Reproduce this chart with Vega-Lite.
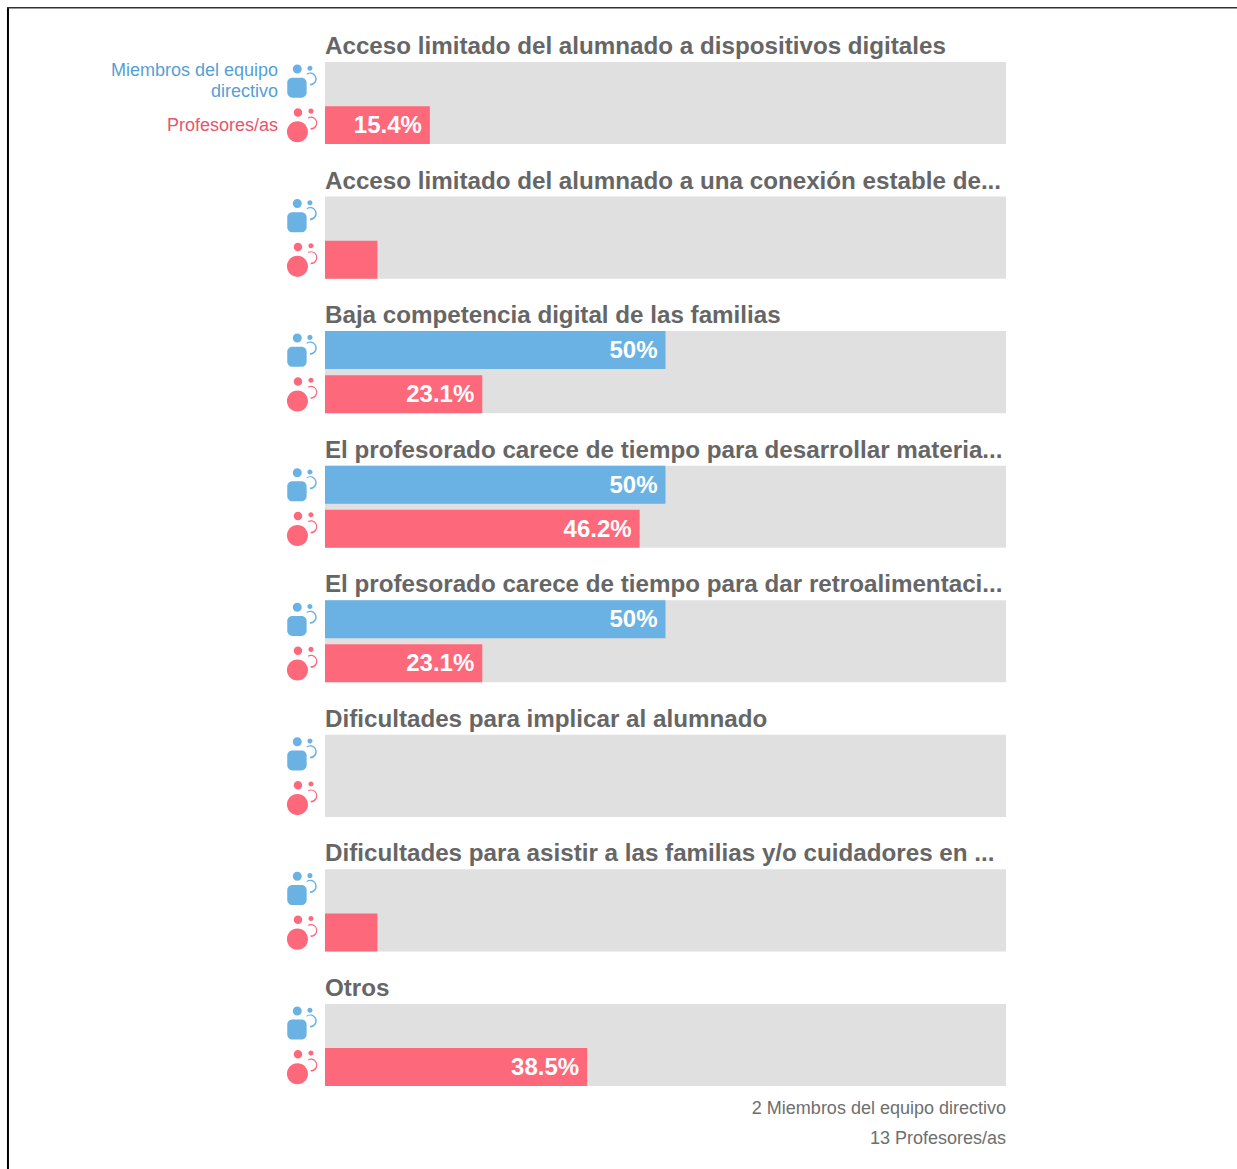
{
"$schema":"https://vega.github.io/schema/vega-lite/v6.json",
"width":1237,"height":1161,
"autosize":{"type":"none"},
"padding":{"left":0,"top":8,"right":0,"bottom":0},
"background":"white",
"view":{"stroke":null},
"config":{"font":"Liberation Sans"},
"datasets":{
"titles":[
{"group":"g1","title":"Acceso limitado del alumnado a dispositivos digitales"},
{"group":"g2","title":"Acceso limitado del alumnado a una conexión estable de..."},
{"group":"g3","title":"Baja competencia digital de las familias"},
{"group":"g4","title":"El profesorado carece de tiempo para desarrollar materia..."},
{"group":"g5","title":"El profesorado carece de tiempo para dar retroalimentaci..."},
{"group":"g6","title":"Dificultades para implicar al alumnado"},
{"group":"g7","title":"Dificultades para asistir a las familias y/o cuidadores en ..."},
{"group":"g8","title":"Otros"}],
"bars":[
{"group":"g1","series":"Miembros","value":0,"label":""},
{"group":"g1","series":"Profesores","value":15.4,"label":"15.4%"},
{"group":"g2","series":"Miembros","value":0,"label":""},
{"group":"g2","series":"Profesores","value":7.7,"label":""},
{"group":"g3","series":"Miembros","value":50,"label":"50%"},
{"group":"g3","series":"Profesores","value":23.1,"label":"23.1%"},
{"group":"g4","series":"Miembros","value":50,"label":"50%"},
{"group":"g4","series":"Profesores","value":46.2,"label":"46.2%"},
{"group":"g5","series":"Miembros","value":50,"label":"50%"},
{"group":"g5","series":"Profesores","value":23.1,"label":"23.1%"},
{"group":"g6","series":"Miembros","value":0,"label":""},
{"group":"g6","series":"Profesores","value":0,"label":""},
{"group":"g7","series":"Miembros","value":0,"label":""},
{"group":"g7","series":"Profesores","value":7.7,"label":""},
{"group":"g8","series":"Miembros","value":0,"label":""},
{"group":"g8","series":"Profesores","value":38.5,"label":"38.5%"}],
"legend":[
{"group":"g1","series":"Miembros","text":"Miembros del equipo\ndirectivo"},
{"group":"g1","series":"Profesores","text":"Profesores/as"}],
"foot":[{"group":"g8","text":"2 Miembros del equipo directivo\n13 Profesores/as"}]
},
"encoding":{
"y":{"field":"group","type":"nominal","axis":null,"sort":null,
"scale":{"domain":["g1","g2","g3","g4","g5","g6","g7","g8"],"range":[54,1078],"paddingInner":0.39,"paddingOuter":0}}
},
"layer":[
{"data":{"name":"titles"},"mark":{"type":"bar","color":"#e0e0e0"},
"encoding":{
"x":{"datum":0,"type":"quantitative","axis":null,"scale":{"domain":[-47.72,133.92],"nice":false,"zero":false}},
"x2":{"datum":100}}},
{"data":{"name":"bars"},"mark":{"type":"bar"},
"encoding":{
"x":{"field":"value","type":"quantitative"},
"yOffset":{"field":"series","type":"nominal","scale":{"domain":["Miembros","Profesores"],"paddingInner":0.14,"paddingOuter":0}},
"color":{"field":"series","type":"nominal","legend":null,"scale":{"domain":["Miembros","Profesores"],"range":["#6ab2e3","#fe687b"]}}}},
{"data":{"name":"bars"},"mark":{"type":"text","align":"right","baseline":"middle","dx":-8,"dy":1,"font":"Liberation Sans","fontWeight":"bold","fontSize":24,"color":"white"},
"encoding":{
"x":{"field":"value","type":"quantitative"},
"yOffset":{"field":"series","type":"nominal"},
"text":{"field":"label"}}},
{"data":{"name":"bars"},"transform":[{"filter":"datum.series==='Miembros'"}],
"mark":{"type":"point","filled":true,"opacity":1,"color":"#6ab2e3","size":1156,
"shape":"M-.541 -.706a.265 .265 0 1 0 .53 0a.265 .265 0 1 0 -.53 0ZM.32 -.747a.15 .15 0 1 0 .3 0a.15 .15 0 1 0 -.3 0ZM.28 -.44A.385 .385 0 1 1 .47 .27L.47 .17A.3 .3 0 1 0 .28 -.35ZM-.565 -.194H-.025A.3 .3 0 0 1 .275 .106V.682A.3 .3 0 0 1 -.025 .982H-.565A.3 .3 0 0 1 -.865 .682V.106A.3 .3 0 0 1 -.565 -.194Z"},
"encoding":{"x":{"datum":-3.38},"yOffset":{"field":"series","type":"nominal"}}},
{"data":{"name":"bars"},"transform":[{"filter":"datum.series==='Profesores'"}],
"mark":{"type":"point","filled":true,"opacity":1,"color":"#fe687b","size":1156,
"shape":"M-.485 -.747a.25 .25 0 1 0 .5 0a.25 .25 0 1 0 -.5 0ZM.38 -.82a.15 .15 0 1 0 .3 0a.15 .15 0 1 0 -.3 0ZM.37 -.47A.385 .385 0 1 1 .51 .27L.51 .17A.3 .3 0 1 0 .37 -.38ZM-.885 .394a.62 .62 0 1 0 1.24 0a.62 .62 0 1 0 -1.24 0Z"},
"encoding":{"x":{"datum":-3.38},"yOffset":{"field":"series","type":"nominal"}}},
{"data":{"name":"legend"},"transform":[{"filter":"datum.series==='Miembros'"}],"mark":{"type":"text","align":"right","baseline":"middle","dy":-10,"fontSize":18,"lineHeight":21,"lineBreak":"\n","font":"Liberation Sans","color":"#559fd6"},
"encoding":{
"x":{"datum":-6.9},
"yOffset":{"field":"series","type":"nominal"},
"text":{"field":"text"}}},
{"data":{"name":"legend"},"transform":[{"filter":"datum.series==='Profesores'"}],"mark":{"type":"text","align":"right","baseline":"middle","dy":1,"fontSize":18,"font":"Liberation Sans","color":"#e8546b"},
"encoding":{
"x":{"datum":-6.9},
"yOffset":{"field":"series","type":"nominal"},
"text":{"field":"text"}}},
{"data":{"name":"titles"},"mark":{"type":"text","align":"left","baseline":"alphabetic","dy":-8,"font":"Liberation Sans","fontWeight":"bold","fontSize":24.2,"color":"#666666"},
"encoding":{
"x":{"datum":0},
"y":{"field":"group","type":"nominal","bandPosition":0},
"text":{"field":"title"}}},
{"data":{"name":"foot"},"mark":{"type":"text","align":"right","baseline":"middle","dy":23,"font":"Liberation Sans","fontSize":18,"lineHeight":30,"lineBreak":"\n","color":"#6e6e6e"},
"encoding":{
"x":{"datum":100},
"y":{"field":"group","type":"nominal","bandPosition":1},
"text":{"field":"text"}}},
{"mark":{"type":"rule","color":"#000000","strokeWidth":2},
"data":{"values":[{"edge":-46.55}]},
"encoding":{"x":{"field":"edge","type":"quantitative"},"y":null}},
{"mark":{"type":"rule","color":"#333333","strokeWidth":1.5},
"data":{"values":[{"from":-46.7,"to":133.92,"group":"g1"}]},
"encoding":{"x":{"field":"from","type":"quantitative"},"x2":{"field":"to"},"y":{"field":"group","type":"nominal","bandPosition":-0.66}}}
]
}
